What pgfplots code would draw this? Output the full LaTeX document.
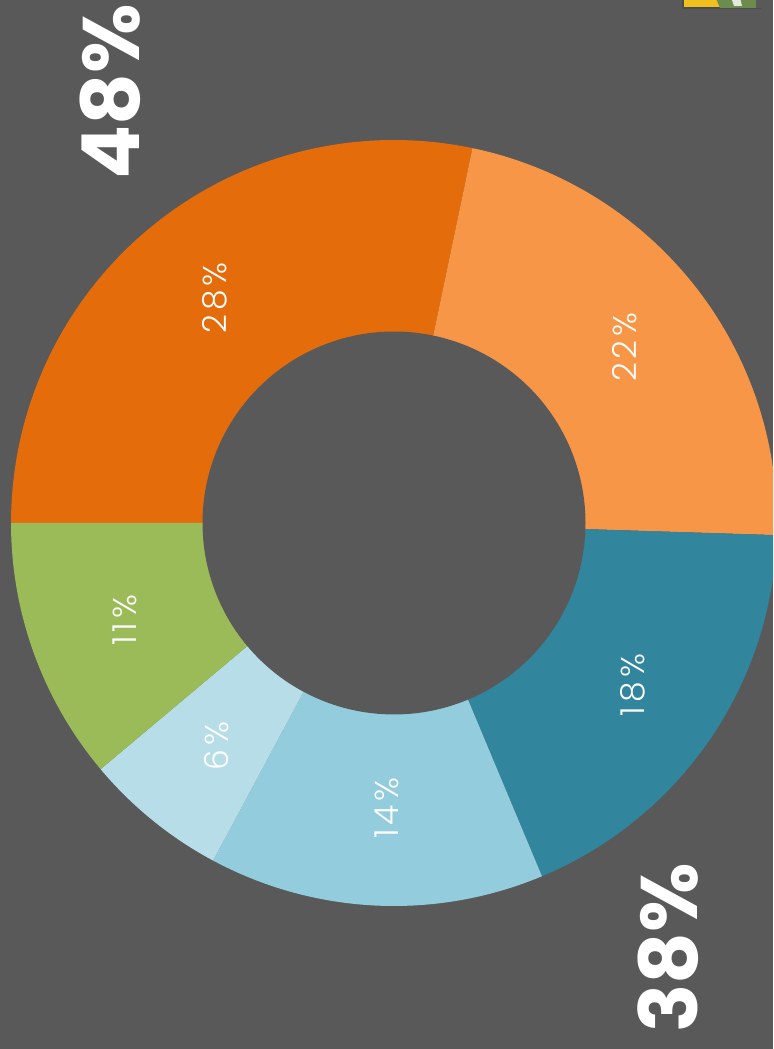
\documentclass[border=0pt]{standalone}
\usepackage{fontspec}
\setmainfont{Poppins}
\newfontfamily\lightf{Poppins Light}[LetterSpace=12]
\usepackage{pgfplots}
\pgfplotsset{compat=1.18}
\definecolor{bg}{HTML}{595959}
\definecolor{cA}{HTML}{E46C0A}
\definecolor{cB}{HTML}{F79646}
\definecolor{cC}{HTML}{31859C}
\definecolor{cD}{HTML}{93CDDD}
\definecolor{cE}{HTML}{B7DEE8}
\definecolor{cF}{HTML}{9BBB59}
\definecolor{logoy}{HTML}{F0C020}
\definecolor{logog}{HTML}{6E8B4E}
% slice values (per cent)
\def\vA{28}\def\vB{22}\def\vC{18}\def\vD{14}\def\vE{6}\def\vF{11}
\pgfmathsetmacro\tot{\vA+\vB+\vC+\vD+\vE+\vF}
\pgfmathsetmacro\aA{180}
\pgfmathsetmacro\aB{\aA-\vA*360/\tot}
\pgfmathsetmacro\aC{\aB-\vB*360/\tot}
\pgfmathsetmacro\aD{\aC-\vC*360/\tot}
\pgfmathsetmacro\aE{\aD-\vD*360/\tot}
\pgfmathsetmacro\aF{\aE-\vE*360/\tot}
\pgfmathsetmacro\aG{\aF-\vF*360/\tot}
\begin{document}
\begin{tikzpicture}
\useasboundingbox (0,0) rectangle (386.5pt,524.5pt);
\fill[bg] (0,0) rectangle (386.5pt,524.5pt);
\begin{axis}[at={(0,0)},anchor=south west,scale only axis,
  width=386.5pt,height=524.5pt,xmin=0,xmax=773,ymin=0,ymax=1049,
  hide axis,clip=true]
\addplot[fill=cA,draw=none,domain=\aB:\aA,samples=120] ({394+383*cos(x)},{526+383*sin(x)}) -- (394,526) -- cycle;
\addplot[fill=cB,draw=none,domain=\aC:\aB,samples=120] ({394+383*cos(x)},{526+383*sin(x)}) -- (394,526) -- cycle;
\addplot[fill=cC,draw=none,domain=\aD:\aC,samples=120] ({394+383*cos(x)},{526+383*sin(x)}) -- (394,526) -- cycle;
\addplot[fill=cD,draw=none,domain=\aE:\aD,samples=120] ({394+383*cos(x)},{526+383*sin(x)}) -- (394,526) -- cycle;
\addplot[fill=cE,draw=none,domain=\aF:\aE,samples=120] ({394+383*cos(x)},{526+383*sin(x)}) -- (394,526) -- cycle;
\addplot[fill=cF,draw=none,domain=\aG:\aF,samples=120] ({394+383*cos(x)},{526+383*sin(x)}) -- (394,526) -- cycle;
\addplot[fill=bg,draw=none,domain=0:360,samples=240] ({394+191.5*cos(x)},{526+191.5*sin(x)}) -- cycle;
\node[rotate=90,text=white,font=\lightf\fontsize{16.5}{16.5}\selectfont] at (215,751) {28\%};
\node[rotate=90,text=white,font=\lightf\fontsize{16.5}{16.5}\selectfont] at (625,702) {22\%};
\node[rotate=90,text=white,font=\lightf\fontsize{16.5}{16.5}\selectfont] at (633,364) {18\%};
\node[rotate=90,text=white,font=\lightf\fontsize{16.5}{16.5}\selectfont] at (387,241) {14\%};
\node[rotate=90,text=white,font=\lightf\fontsize{16.5}{16.5}\selectfont] at (217,303) {6\%};
\node[rotate=90,text=white,font=\lightf\fontsize{16.5}{16.5}\selectfont] at (125,429) {11\%};
\node[rotate=90,text=white,font=\bfseries\fontsize{40}{40}\selectfont] at (110,957) {48\%};
\node[rotate=90,text=white,font=\bfseries\fontsize{40}{40}\selectfont] at (668,101) {38\%};
\fill[logoy,draw=black!70,line width=1pt] (683,1041) rectangle (760,1060);
\fill[logog] (712,1060) -- (720,1041) -- (760,1041) -- (760,1060) -- cycle;
\fill[white!80!logog] (728,1060) -- (734,1043) -- (742,1043) -- (738,1060) -- cycle;
\fill[bg] (756,1041) rectangle (773,1060);
\end{axis}
\end{tikzpicture}
\end{document}
